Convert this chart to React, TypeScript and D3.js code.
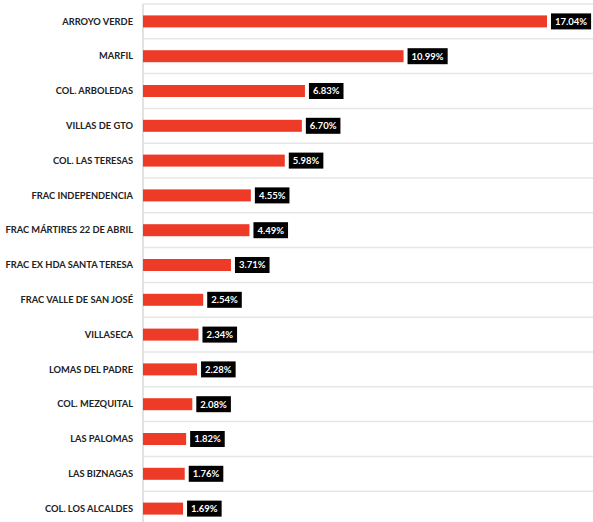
import React, { useEffect, useRef } from "react";
import * as d3 from "d3";

const categories = [
  "ARROYO VERDE",
  "MARFIL",
  "COL. ARBOLEDAS",
  "VILLAS DE GTO",
  "COL. LAS TERESAS",
  "FRAC INDEPENDENCIA",
  "FRAC MÁRTIRES 22 DE ABRIL",
  "FRAC EX HDA SANTA TERESA",
  "FRAC VALLE DE SAN JOSÉ",
  "VILLASECA",
  "LOMAS DEL PADRE",
  "COL. MEZQUITAL",
  "LAS PALOMAS",
  "LAS BIZNAGAS",
  "COL. LOS ALCALDES",
];
const values = [17.04, 10.99, 6.83, 6.7, 5.98, 4.55, 4.49, 3.71, 2.54, 2.34, 2.28, 2.08, 1.82, 1.76, 1.69];

const W = 593;
const H = 522;
const FONT = "Lato, 'Open Sans', sans-serif";

export default function App() {
  const ref = useRef<SVGSVGElement>(null);
  useEffect(() => {
    const svg = d3.select(ref.current);
    svg.selectAll("*").remove();
    const x0 = 143;
    const top = 4;
    const step = 34.8;
    const x = d3.scaleLinear().domain([0, 17.04]).range([x0, 547]);
    const y = d3
      .scaleBand<string>()
      .domain(categories)
      .range([top, top + step * categories.length])
      .padding(0);
    const barH = 12;

    const bounds = d3.range(categories.length + 1).map((i) => top + i * y.step());
    svg
      .append("g")
      .selectAll("line")
      .data(bounds)
      .join("line")
      .attr("x1", x0)
      .attr("x2", W)
      .attr("y1", (d) => d)
      .attr("y2", (d) => d)
      .attr("stroke", "#e6e6e6")
      .attr("stroke-width", 1.5);

    svg
      .append("line")
      .attr("x1", x0)
      .attr("x2", x0)
      .attr("y1", top)
      .attr("y2", H)
      .attr("stroke", "#d9d9d9")
      .attr("stroke-width", 1.5);

    const data = categories.map((c, i) => ({ c, v: values[i] }));

    svg
      .append("g")
      .selectAll("rect")
      .data(data)
      .join("rect")
      .attr("x", x(0))
      .attr("y", (d) => (y(d.c) as number) + y.bandwidth() / 2 - barH / 2)
      .attr("width", (d) => x(d.v) - x(0))
      .attr("height", barH)
      .attr("fill", "#ee3b28");

    svg
      .append("g")
      .selectAll("text")
      .data(data)
      .join("text")
      .attr("x", 133)
      .attr("y", (d) => (y(d.c) as number) + y.bandwidth() / 2)
      .attr("dy", "0.35em")
      .attr("text-anchor", "end")
      .attr("font-family", FONT)
      .attr("font-weight", 700)
      .attr("font-size", 9.3)
      .attr("fill", "#222")
      .text((d) => d.c);

    const lg = svg
      .append("g")
      .selectAll("g")
      .data(data)
      .join("g")
      .attr("transform", (d) => `translate(${x(d.v) + 4},${(y(d.c) as number) + y.bandwidth() / 2})`);
    const rects = lg
      .append("rect")
      .attr("y", -8)
      .attr("height", 16)
      .attr("fill", "#000");
    const texts = lg
      .append("text")
      .attr("x", 4)
      .attr("dy", "0.35em")
      .attr("font-family", FONT)
      .attr("font-weight", 700)
      .attr("font-size", 9.5)
      .attr("fill", "#fff")
      .text((d) => d.v.toFixed(2) + "%");
    texts.each(function (_, i) {
      const w = (this as SVGTextElement).getComputedTextLength();
      d3.select(rects.nodes()[i]).attr("width", w + 8);
    });
  }, []);
  return (
    <svg
      ref={ref}
      width={W}
      height={H}
      style={{ position: "absolute", left: 0, top: 0, background: "#fff" }}
    />
  );
}
